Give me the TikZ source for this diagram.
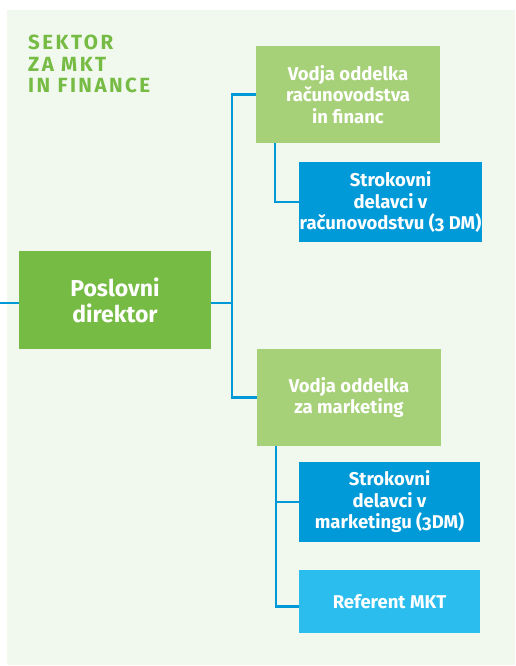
\documentclass[tikz,border=0pt]{standalone}
\usepackage{fontspec}
\setmainfont{Fira Sans}[Numbers=OldStyle]
\newfontfamily\spacedfont{Fira Sans}[LetterSpace=12]
\usepackage{xcolor}
\usepackage{tikz}
\definecolor{bgmint}{HTML}{F1F8EE}
\definecolor{sekgreen}{HTML}{76BB43}
\definecolor{lightgreen}{HTML}{A6D179}
\definecolor{deepblue}{HTML}{009AD9}
\definecolor{skyblue}{HTML}{2ABDEE}
\definecolor{linkblue}{HTML}{0099D8}

\begin{document}
\begin{tikzpicture}[x=1pt,y=-1pt,inner sep=0pt,
  box/.style={rectangle,text=white,align=center,font=\bfseries\fontsize{18.5}{21.5}\selectfont},
  link/.style={draw=linkblue,line width=2.5pt}]
\useasboundingbox (0,0) rectangle (515,666);
\fill[bgmint] (7,10) rectangle (515,665);

\node[anchor=north west,align=left,text=sekgreen,font=\spacedfont\bfseries\fontsize{20.5}{21.5}\selectfont] (title) at (28,35) {SEKTOR\\ZA MKT\\IN FINANCE};

\node[box,fill=sekgreen,minimum width=192,minimum height=98,font=\bfseries\fontsize{23}{26}\selectfont] (pd) at (115,300) {Poslovni\\direktor};
\node[box,fill=lightgreen,minimum width=184,minimum height=97] (vf) at (348,94.5) {Vodja oddelka\\računovodstva\\in financ};
\node[box,fill=deepblue,minimum width=183,minimum height=80] (sr) at (390.5,202) {Strokovni\\delavci v\\računovodstvu (3 DM)};
\node[box,fill=lightgreen,minimum width=184,minimum height=97] (vm) at (349,397.5) {Vodja oddelka\\za marketing};
\node[box,fill=deepblue,minimum width=181,minimum height=80] (sm) at (389.5,502) {Strokovni\\delavci v\\marketingu (3DM)};
\node[box,fill=skyblue,minimum width=181,minimum height=63] (ref) at (389.5,601.5) {Referent MKT};

\coordinate (in) at (0,303);
\coordinate (trunk) at (232,303);

\path[link] (in) -- (pd.west |- in);
\path[link] (pd.east |- trunk) -- (trunk);
\path[link] (trunk) |- (vf.west);
\path[link] (trunk) |- (vm.west);
\path[link] ([xshift=19pt]vf.south west) |- (sr.west);
\path[link] ([xshift=19pt]vm.south west) |- (sm.west);
\path[link] ([xshift=19pt]vm.south west) |- ([yshift=-5pt]ref.west);
\end{tikzpicture}
\end{document}
